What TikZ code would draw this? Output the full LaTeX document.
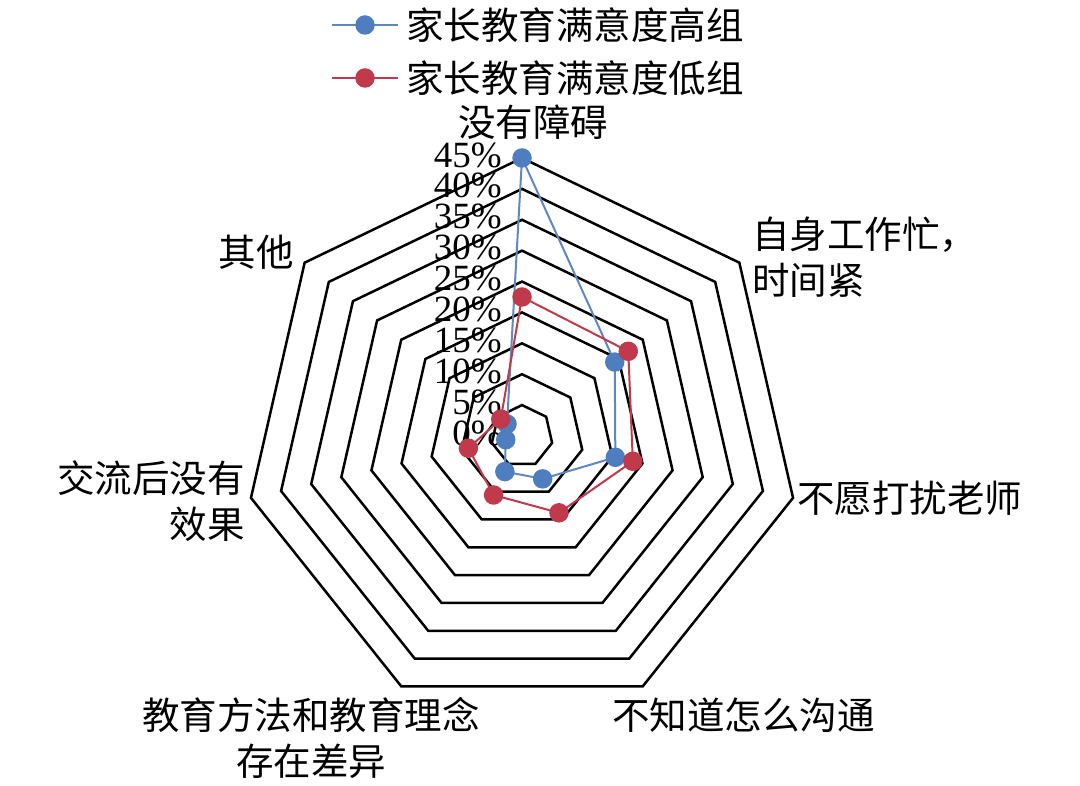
\documentclass[tikz,border=0pt]{standalone}
\usepackage{fontspec}
\setmainfont{Liberation Serif}
\newfontfamily\cjk{Noto Sans CJK SC}
\definecolor{hiblue}{HTML}{4F7EC0}
\definecolor{hiblueline}{HTML}{6088BE}
\definecolor{lored}{HTML}{C03A4C}
\tikzset{
  ring/.style={draw=black, line width=2.5pt, line join=miter},
  hiline/.style={draw=hiblueline, line width=2pt, line join=round},
  loline/.style={draw=lored, line width=2pt, line join=round},
  himark/.style={circle, fill=hiblue, inner sep=0pt, minimum size=19.5pt},
  lomark/.style={circle, fill=lored, inner sep=0pt, minimum size=19.5pt},
  cjklabel/.style={font=\cjk\fontsize{37.5}{46}\selectfont, inner sep=0pt},
  pctlabel/.style={font=\fontsize{37}{37}\selectfont, inner sep=0pt, anchor=east},
}
\begin{document}
\begin{tikzpicture}[x=1pt, y=-1pt]
\useasboundingbox (0,0) rectangle (1080,786);
\fill[white] (0,0) rectangle (1080,786);
\coordinate (C) at (522,436);
% rings
\begin{scope}[shift={(C)}]
  \foreach \k in {1,...,9}{
    \pgfmathsetmacro{\r}{\k*30.89}
    \draw[ring] (-90:\r) \foreach \i in {1,...,6}{ -- ({\i*360/7-90}:\r) } -- cycle;
  }
\end{scope}
% percent labels
\foreach \k in {0,...,9}{
  \pgfmathtruncatemacro{\p}{\k*5}
  \node[pctlabel] (pct\k) at (502, {436-\k*30.89-3}) {\p\%};
}
% data coordinates
\begin{scope}[shift={(C)}]
  \foreach \i/\v in {0/45, 1/19.2, 2/15.5, 3/7.7, 4/6.4, 5/2.7, 6/3.1}{
    \coordinate (hi\i) at ({\i*360/7-90}:{\v*6.178});
  }
  \foreach \i/\v in {0/22.5, 1/22, 2/18.4, 3/13.8, 4/10.6, 5/8.9, 6/4.4}{
    \coordinate (lo\i) at ({\i*360/7-90}:{\v*6.178});
  }
\end{scope}
\draw[hiline] (hi0) -- (hi1) -- (hi2) -- (hi3) -- (hi4) -- (hi5) -- (hi6) -- cycle;
\foreach \i in {0,...,6}{ \node[himark] (him\i) at (hi\i) {}; }
\draw[loline] (lo0) -- (lo1) -- (lo2) -- (lo3) -- (lo4) -- (lo5) -- (lo6) -- cycle;
\foreach \i in {0,...,6}{ \node[lomark] (lom\i) at (lo\i) {}; }
% legend
\coordinate (lga) at (332,25);
\coordinate (lgb) at (398,25);
\draw[hiline] (lga) -- (lgb);
\node[himark] (lgm1) at (365,25) {};
\node[cjklabel, anchor=west] (lgt1) at (406,25) {家长教育满意度高组};
\coordinate (lgc) at (332,78);
\coordinate (lgd) at (398,78);
\draw[loline] (lgc) -- (lgd);
\node[lomark] (lgm2) at (365,78) {};
\node[cjklabel, anchor=west] (lgt2) at (406,78) {家长教育满意度低组};
% axis labels
\node[cjklabel] (ax0) at (533,122) {没有障碍};
\node[cjklabel, anchor=west, align=left] (ax1) at (752,257) {自身工作忙，\\时间紧};
\node[cjklabel, anchor=west] (ax2) at (797,498) {不愿打扰老师};
\node[cjklabel, anchor=west] (ax3) at (612,715) {不知道怎么沟通};
\node[cjklabel, align=center] (ax4) at (311,738) {教育方法和教育理念\\存在差异};
\node[cjklabel, anchor=east, align=right] (ax5) at (245,501) {交流后没有\\效果};
\node[cjklabel, anchor=east] (ax6) at (294,252) {其他};
\end{tikzpicture}
\end{document}
